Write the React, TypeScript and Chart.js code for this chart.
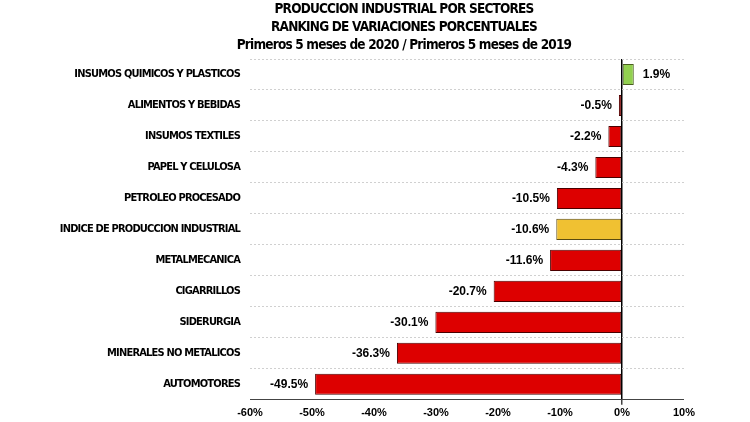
import React, { useEffect, useRef } from "react";
import { Chart, registerables } from "chart.js";

Chart.register(...registerables);

const categories = [
  "INSUMOS QUIMICOS Y PLASTICOS",
  "ALIMENTOS Y BEBIDAS",
  "INSUMOS TEXTILES",
  "PAPEL Y CELULOSA",
  "PETROLEO PROCESADO",
  "INDICE DE PRODUCCION INDUSTRIAL",
  "METALMECANICA",
  "CIGARRILLOS",
  "SIDERURGIA",
  "MINERALES NO METALICOS",
  "AUTOMOTORES",
];
const values = [1.9, -0.5, -2.2, -4.3, -10.5, -10.6, -11.6, -20.7, -30.1, -36.3, -49.5];
const titleLines = [
  "PRODUCCION INDUSTRIAL POR SECTORES",
  "RANKING DE VARIACIONES PORCENTUALES",
  "Primeros 5 meses de 2020 / Primeros 5 meses de 2019",
];
const xMin = -60;
const xMax = 10;
const xStep = 10;

const isIndex = (i: number) => categories[i] === "INDICE DE PRODUCCION INDUSTRIAL";
const barColor = (v: number, i: number) => (isIndex(i) ? "#F0C132" : v > 0 ? "#92D050" : "#DD0000");
const barBorder = (v: number, i: number) => (isIndex(i) ? "#5a4a10" : v > 0 ? "#4a5e20" : "#4a0000");

const labelFont = "'Liberation Sans Narrow', 'DejaVu Sans Condensed', sans-serif";
const numFont = "'Liberation Sans', Arial, sans-serif";

const valueLabels = {
  id: "valueLabels",
  afterDatasetsDraw(chart: any) {
    const ctx = chart.ctx;
    const meta = chart.getDatasetMeta(0);
    ctx.save();
    ctx.font = `bold 12px ${numFont}`;
    ctx.fillStyle = "#000";
    ctx.textBaseline = "middle";
    meta.data.forEach((bar: any, i: number) => {
      const v = values[i];
      const txt = v.toFixed(1) + "%";
      if (v >= 0) {
        ctx.textAlign = "left";
        ctx.fillText(txt, bar.x + 9, bar.y);
      } else {
        ctx.textAlign = "right";
        ctx.fillText(txt, bar.x - 7, bar.y);
      }
    });
    ctx.restore();
  },
};

const titlePlugin = {
  id: "titleText",
  afterDraw(chart: any) {
    const ctx = chart.ctx;
    ctx.save();
    ctx.font = `bold 13.5px ${labelFont}`;
    (ctx as any).letterSpacing = "-0.8px";
    ctx.fillStyle = "#000";
    ctx.textAlign = "center";
    ctx.textBaseline = "middle";
    titleLines.forEach((t, i) => ctx.fillText(t, 404, 9 + i * 18));
    ctx.restore();
  },
};

export default function App() {
  const ref = useRef<HTMLCanvasElement>(null);
  useEffect(() => {
    document.body.style.margin = "0";
    const chart = new Chart(ref.current!, {
      type: "bar",
      data: {
        labels: categories,
        datasets: [
          {
            data: values,
            backgroundColor: values.map(barColor),
            borderColor: values.map(barBorder),
            borderWidth: 1,
            borderSkipped: false,
            categoryPercentage: 1,
            barPercentage: 0.68,
          },
        ],
      },
      options: {
        indexAxis: "y",
        responsive: false,
        animation: false,
        layout: { padding: { left: 20, right: 66, top: 59, bottom: 0 } },
        plugins: {
          legend: { display: false },
          tooltip: { enabled: false },
          title: { display: false },
        },
        scales: {
          x: {
            min: xMin,
            max: xMax,
            ticks: {
              stepSize: xStep,
              color: "#000",
              font: { family: numFont, size: 11, weight: "bold" },
              padding: 2,
              callback: (v: any) => v + "%",
            },
            grid: {
              color: (c: any) => (c.tick && c.tick.value === 0 ? "#000" : "rgba(0,0,0,0)"),
              lineWidth: (c: any) => (c.tick && c.tick.value === 0 ? 1.5 : 0),
              tickColor: "#444",
              tickLength: 5,
              drawTicks: true,
            },
            border: { display: true, color: "#444", width: 1 },
          },
          y: {
            ticks: {
              color: "#000",
              font: { family: labelFont, size: 11, weight: "bold" },
              padding: 10,
            },
            grid: {
              offset: true,
              color: "#d0d0d0",
              lineWidth: 1,
              drawTicks: false,
            },
            border: { display: false, dash: [2, 2] },
            afterFit: (s: any) => {
              s.width = 230;
            },
            afterUpdate: (s: any) => {
              if (s.__wrapped) return;
              s.__wrapped = true;
              const orig = s.drawLabels.bind(s);
              s.drawLabels = (area: any) => {
                const c = s.ctx;
                c.save();
                c.letterSpacing = "-0.8px";
                orig(area);
                c.restore();
              };
            },
          },
        },
      },
      plugins: [valueLabels, titlePlugin],
    } as any);
    return () => chart.destroy();
  }, []);
  return (
    <div style={{ position: "absolute", left: 0, top: 0, width: 750, height: 422 }}>
      <canvas ref={ref} width={750} height={422} />
    </div>
  );
}
